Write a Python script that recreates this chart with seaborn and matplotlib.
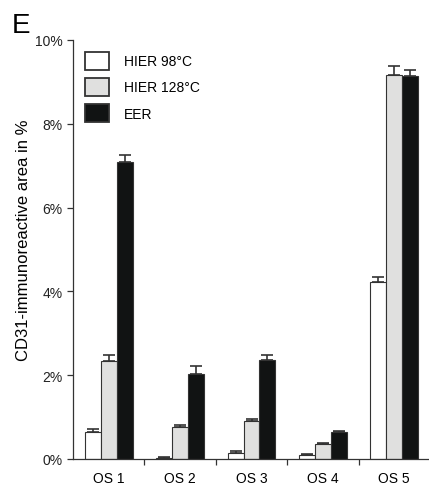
import numpy as np
import pandas as pd
import matplotlib
matplotlib.use("Agg")
import matplotlib.pyplot as plt
import seaborn as sns
from matplotlib.ticker import FuncFormatter

samples = ["OS 1", "OS 2", "OS 3", "OS 4", "OS 5"]
methods = ["HIER 98°C", "HIER 128°C", "EER"]
hier98 = [0.65, 0.03, 0.15, 0.10, 4.22]
hier98_err = [0.06, 0.01, 0.03, 0.02, 0.12]
hier128 = [2.35, 0.77, 0.90, 0.35, 9.16]
hier128_err = [0.14, 0.05, 0.05, 0.03, 0.21]
eer = [7.08, 2.03, 2.37, 0.65, 9.14]
eer_err = [0.18, 0.18, 0.12, 0.02, 0.14]

colors = ["#ffffff", "#e0e0df", "#111313"]

sns.set_style("ticks")
plt.rcParams["font.family"] = ["Liberation Sans", "DejaVu Sans"]
plt.rcParams["text.color"] = "black"
plt.rcParams["axes.labelcolor"] = "black"
plt.rcParams["xtick.color"] = "black"
plt.rcParams["ytick.color"] = "black"

df = pd.DataFrame({
    "sample": samples * 3,
    "method": [m for m in methods for _ in samples],
    "value": hier98 + hier128 + eer,
    "err": hier98_err + hier128_err + eer_err,
})

fig = plt.figure(figsize=(4.29, 4.89), dpi=100)
ax = fig.add_axes([73 / 429, 29 / 489, 357 / 429, 419 / 489])

sns.barplot(data=df, x="sample", y="value", hue="method", hue_order=methods,
            palette=colors, width=0.67, gap=0, edgecolor="#333333",
            linewidth=0.8, errorbar=None, ax=ax, zorder=2)

# upward-only error bars, centred on each bar
for i, m in enumerate(methods):
    sub = df[df["method"] == m]
    cont = ax.containers[i]
    xs = [p.get_x() + p.get_width() / 2 for p in cont.patches]
    ax.errorbar(xs, sub["value"], yerr=[np.zeros(len(sub)), sub["err"]],
                fmt="none", ecolor="#333333", elinewidth=1.2, capsize=4,
                capthick=1.2, zorder=1)

ax.set_xlim(-0.5, 4.5)
ax.set_ylim(0, 10)
ax.set_yticks([0, 2, 4, 6, 8, 10])
ax.yaxis.set_major_formatter(FuncFormatter(lambda v, _: f"{v:.0f}%"))
ax.set_xticks(np.arange(5))
ax.set_xticklabels(samples)
ax.set_xticks(np.arange(0.5, 4.5, 1), minor=True)
ax.tick_params(axis="x", which="major", length=0, labelsize=10, pad=9)
ax.tick_params(axis="x", which="minor", length=4, width=0.9, color="#333333")
ax.tick_params(axis="y", length=4, width=0.9, labelsize=10, color="#333333",
               labelcolor="#222222")
ax.set_xlabel("")
ax.set_ylabel("CD31-immunoreactive area in %", fontsize=12)
ax.yaxis.set_label_coords(-0.118, 0.525)
for s in ["top", "right"]:
    ax.spines[s].set_visible(False)
for s in ["left", "bottom"]:
    ax.spines[s].set_linewidth(0.9)
    ax.spines[s].set_color("#333333")

leg = ax.legend(loc="upper left", bbox_to_anchor=(0.005, 0.995), frameon=False,
                fontsize=10, handlelength=1.75, handleheight=1.6,
                labelspacing=0.6, handletextpad=1.1, borderaxespad=0.3)
for h in leg.legend_handles:
    h.set_linewidth(1.3)
fig.text(12 / 429, 1 - 33 / 489, "E", fontsize=20, color="black")

fig.savefig("out.png", dpi=100)
